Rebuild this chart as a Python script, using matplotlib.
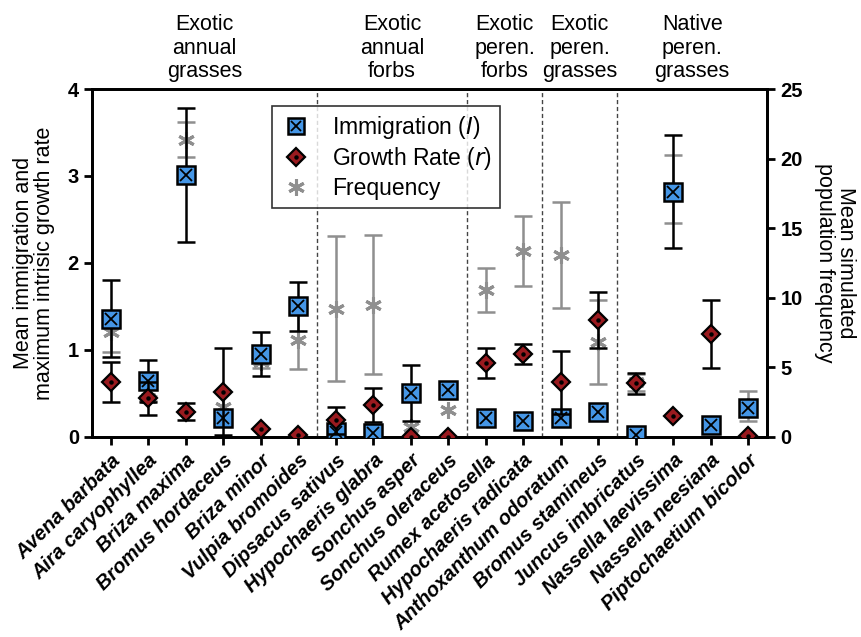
import matplotlib.pyplot as plt
import numpy as np
from matplotlib.lines import Line2D

plt.rcParams['font.family'] = ['Liberation Sans', 'DejaVu Sans']

species = ['Avena barbata', 'Aira caryophyllea', 'Briza maxima', 'Bromus hordaceus',
           'Briza minor', 'Vulpia bromoides', 'Dipsacus sativus', 'Hypochaeris glabra',
           'Sonchus asper', 'Sonchus oleraceus', 'Rumex acetosella', 'Hypochaeris radicata',
           'Anthoxanthum odoratum', 'Bromus stamineus', 'Juncus imbricatus',
           'Nassella laevissima', 'Nassella neesiana', 'Piptochaetium bicolor']

# immigration (I), left axis
imm = [1.36, 0.64, 3.01, 0.21, 0.95, 1.50, 0.06, 0.04, 0.50, 0.54,
       0.21, 0.18, 0.21, 0.29, 0.02, 2.82, 0.14, 0.33]
imm_err = [0.44, 0.24, 0.77, 0.0, 0.25, 0.28, 0.0, 0.0, 0.32, 0.0,
           0.0, 0.0, 0.0, 0.0, 0.0, 0.65, 0.0, 0.0]

# max intrinsic growth rate (r), left axis
growth = [0.63, 0.44, 0.29, 0.52, 0.09, 0.02, 0.19, 0.365, 0.0, 0.0,
          0.845, 0.95, 0.625, 1.34, 0.614, 0.238, 1.185, 0.01]
growth_err = [0.23, 0.19, 0.095, 0.50, 0.0, 0.0, 0.155, 0.20, 0.0, 0.0,
              0.172, 0.115, 0.36, 0.32, 0.12, 0.0, 0.39, 0.0]

# simulated population frequency, right axis
freq = [7.55, 2.75, 21.35, 2.15, 5.4, 6.95, 9.2, 9.5, 0.72, 1.95,
        10.55, 13.35, 13.05, 6.8, 3.9, 17.8, 0.9, 2.2]
freq_err = [1.45, 0.2, 1.25, 0.0, 0.45, 2.1, 5.2, 5.0, 0.0, 0.0,
            1.55, 2.5, 3.8, 3.0, 0.6, 2.45, 0.0, 1.1]

group_names = ['Exotic\nannual\ngrasses', 'Exotic\nannual\nforbs', 'Exotic\nperen.\nforbs',
               'Exotic\nperen.\ngrasses', 'Native\nperen.\ngrasses']
group_sizes = [6, 4, 2, 2, 4]

blue = '#4596e6'
red = '#9a1a1f'
grey = '#8f8f8f'

x = np.arange(len(species))
imm = np.array(imm); imm_err = np.array(imm_err)
growth = np.array(growth); growth_err = np.array(growth_err)
freq = np.array(freq); freq_err = np.array(freq_err)

fig = plt.figure(figsize=(8.61, 6.37), dpi=100)
ax = fig.add_axes([0.107, 0.3144, 0.784, 0.5458])
ax2 = ax.twinx()
# keep the frequency axis underneath
ax.set_zorder(ax2.get_zorder() + 1)
ax.patch.set_visible(False)

# frequency
m = freq_err > 0
ax2.errorbar(x[m], freq[m], yerr=freq_err[m], fmt='none', ecolor=grey,
             elinewidth=1.8, capsize=6.5, capthick=1.8)
ax2.plot(x, freq, ls='none', marker=(6, 2, 0), ms=12, mew=2.2, color=grey)

# immigration
m = imm_err > 0
ax.errorbar(x[m], imm[m], yerr=imm_err[m], fmt='none', ecolor='black',
            elinewidth=1.8, capsize=6.5, capthick=1.8, zorder=3)
ax.plot(x, imm, ls='none', marker='s', ms=12.5, mfc=blue, mec='black', mew=1.8, zorder=4)
ax.plot(x, imm, ls='none', marker='x', ms=8.5, color='black', mew=1.3, zorder=4)

# growth rate
m = growth_err > 0
ax.errorbar(x[m], growth[m], yerr=growth_err[m], fmt='none', ecolor='black',
            elinewidth=1.8, capsize=6.5, capthick=1.8, zorder=5)
ax.plot(x, growth, ls='none', marker='D', ms=9.5, mfc=red, mec='black', mew=1.6, zorder=6)
ax.plot(x, growth, ls='none', marker='o', ms=2.2, color='black', zorder=6)

# group separators and labels
edges = np.cumsum([0] + group_sizes) - 0.5
for b in edges[1:-1]:
    ax.axvline(b, color='#444444', lw=1.0, ls=(0, (3, 2)), zorder=1)
for name, a, b in zip(group_names, edges[:-1], edges[1:]):
    ax.text((a + b) / 2, 1.02, name, transform=ax.get_xaxis_transform(),
            ha='center', va='bottom', fontsize=15.5, linespacing=1.15)

ax.set_xlim(-0.5, len(species) - 0.5)
ax.set_ylim(0, 4)
ax2.set_ylim(0, 25)
ax.set_yticks([0, 1, 2, 3, 4])
ax2.set_yticks([0, 5, 10, 15, 20, 25])
ax.set_xticks(x)
ax.set_xticklabels(species, rotation=45, ha='right', rotation_mode='anchor',
                   fontsize=13.2, fontweight='bold', fontstyle='italic')

for a in (ax, ax2):
    for s in a.spines.values():
        s.set_linewidth(2)
    a.tick_params(width=2, length=6, labelsize=14.5, direction='out')
for lab in ax.get_yticklabels() + ax2.get_yticklabels():
    lab.set_fontweight('bold')
ax.tick_params(axis='x', pad=4)

ax.set_ylabel('Mean immigration and\nmaximum intrisic growth rate', fontsize=15.5, labelpad=9,
              linespacing=1.0)
ax2.set_ylabel('Mean simulated\npopulation frequency', fontsize=15.5, rotation=270,
               labelpad=38, linespacing=1.0)

handles = [
    (Line2D([], [], ls='none', marker='s', ms=11, mfc=blue, mec='black', mew=1.8),
     Line2D([], [], ls='none', marker='x', ms=7.5, color='black', mew=1.3)),
    (Line2D([], [], ls='none', marker='D', ms=9, mfc=red, mec='black', mew=1.6),
     Line2D([], [], ls='none', marker='o', ms=2.2, color='black')),
    Line2D([], [], ls='none', marker=(6, 2, 0), ms=12, mew=2.2, color=grey),
]
labels = ['Immigration ($\\mathit{I}$)', 'Growth Rate ($\\mathit{r}$)', 'Frequency']
leg = ax.legend(handles, labels, loc='upper left', bbox_to_anchor=(0.266, 0.952),
                fontsize=16.5, frameon=True, fancybox=False, edgecolor='black',
                handletextpad=0.9, labelspacing=0.2, borderpad=0.35, handlelength=1.4,
                borderaxespad=0)
leg.get_frame().set_linewidth(1.2)
leg.set_zorder(10)

fig.savefig('out.png', dpi=100)
